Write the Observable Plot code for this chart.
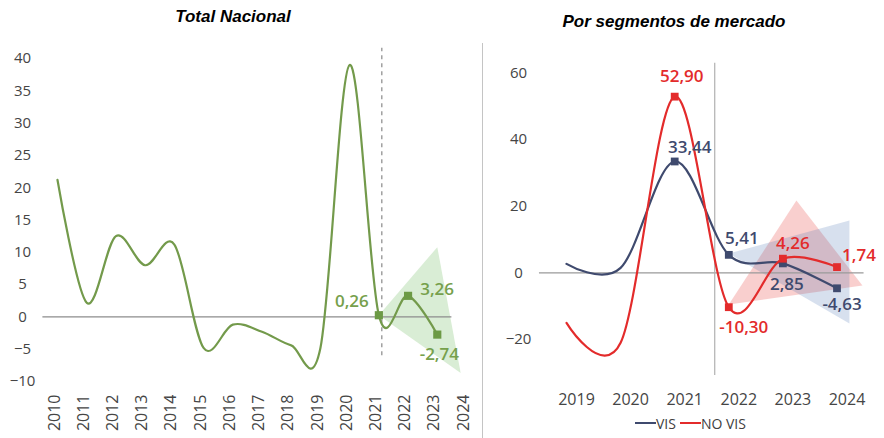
<!DOCTYPE html>
<html>
<head>
<meta charset="utf-8">
<script src="https://cdn.jsdelivr.net/npm/d3@7"></script>
<script src="https://cdn.jsdelivr.net/npm/@observablehq/plot@0.6"></script>
<style>
  html, body { margin: 0; padding: 0; background: #fff; }
  #wrap { position: relative; width: 884px; height: 438px; overflow: hidden; font-family: "Open Sans", sans-serif; }
  .title { position: absolute; text-align: center; font-family: "Liberation Sans", Arial, sans-serif; font-weight: bold; font-style: italic; font-size: 17px; line-height: 20px; color: #000; }
  .panel { position: absolute; top: 0; }
  #sep { position: absolute; left: 482px; top: 43px; width: 0; height: 395px; border-left: 1px solid #c4c4c4; }
  #legend { position: absolute; left: 635px; top: 414px; height: 18px; display: flex; align-items: center; font-size: 14px; color: #404040; }
  #legend .sw { display: inline-block; width: 21px; height: 0; border-top: 2.5px solid; }
</style>
</head>
<body>
<div id="wrap">
  <div id="left" class="panel" style="left:0"></div>
  <div id="right" class="panel" style="left:470px"></div>
  <div id="sep"></div>
  <div class="title" style="left:0; width:466px; top:7px;">Total Nacional</div>
  <div class="title" style="left:470px; width:408px; top:12px;">Por segmentos de mercado</div>
  <div id="legend"></div>
</div>
<script>
// ---------- Data: Total Nacional ----------
const totalYears = [2010, 2011, 2012, 2013, 2014, 2015, 2016, 2017, 2018, 2019, 2020, 2021, 2022, 2023];
const totalValues = [21.2, 2.2, 12.5, 8.0, 11.2, -4.8, -1.2, -2.3, -4.4, -4.8, 39.0, 0.26, 3.26, -2.74];
const totalTickYears = [2010, 2011, 2012, 2013, 2014, 2015, 2016, 2017, 2018, 2019, 2020, 2021, 2022, 2023, 2024];
const totalYTicks = [-10, -5, 0, 5, 10, 15, 20, 25, 30, 35, 40];
const totalMarkedYears = [2021, 2022, 2023];
const totalFanX = [2021, 2023, 2023.8];
const totalFanY = [0.26, 10.8, -8.7];
const totalSplitYear = 2021.1;

// ---------- Data: Por segmentos de mercado ----------
const segYears = [2019, 2020, 2021, 2022, 2023, 2024];
const visValues = [2.7, 1.5, 33.44, 5.41, 2.85, -4.63];
const noVisValues = [-15.0, -21.0, 52.90, -10.30, 4.26, 1.74];
const segYTicks = [-20, 0, 20, 40, 60];
const segMarkedYears = [2021, 2022, 2023, 2024];
const visFanX = [2022, 2024.23, 2024.23];
const visFanY = [5.8, 15.7, -15.2];
const noVisFanX = [2022, 2023.25, 2024.47];
const noVisFanY = [-9.5, 21.7, -3.8];
const segSplitYear = 2021.74;
const seriesNames = ["VIS", "NO VIS"];

// ---------- Styles ----------
const GREEN = "#739a4b", GREEN_MARK = "#6c9a45", GREEN_TXT = "#76a04c", GREEN_FAN = "#d9edd5";
const NAVY = "#3f4a6e", RED = "#e32b2b";
const fmt = v => v.toFixed(2).replace(".", ",");

// label offsets (px) for each labelled point
const totalLabelOffsets = { 2021: [-27, -14], 2022: [29, -6], 2023: [2, 20] };
const visLabelOffsets = { 2021: [15, -14], 2022: [13, -16], 2023: [4, 21], 2024: [5, 16] };
const noVisLabelOffsets = { 2021: [7, -20], 2022: [15, 20], 2023: [10, -15], 2024: [22, -12] };

const total = totalYears.map((year, i) => ({ year, value: totalValues[i] }));
const totalFan = totalFanX.map((x, i) => ({ x, y: totalFanY[i] }));
const vis = segYears.map((year, i) => ({ year, value: visValues[i] }));
const noVis = segYears.map((year, i) => ({ year, value: noVisValues[i] }));
const visFan = visFanX.map((x, i) => ({ x, y: visFanY[i] }));
const noVisFan = noVisFanX.map((x, i) => ({ x, y: noVisFanY[i] }));

function labelMarks(data, years, offsets, color) {
  return years.map(yr => {
    const d = data.filter(p => p.year === yr);
    const [dx, dy] = offsets[yr];
    return Plot.text(d, { x: "year", y: "value", text: p => fmt(p.value), dx, dy, fill: color, fontSize: 17, fontWeight: 600, textAnchor: "middle", style: "letter-spacing:0.8px" });
  });
}

// ---------- Left chart ----------
const left = Plot.plot({
  width: 470, height: 438,
  marginTop: 58, marginBottom: 57, marginLeft: 57, marginRight: 4,
  style: { fontFamily: "Open Sans, sans-serif", fontSize: "15px", color: "#404040", background: "transparent", overflow: "visible" },
  x: { domain: [2010, 2024] },
  y: { domain: [-10, 40] },
  marks: [
    Plot.axisY({ ticks: totalYTicks, tickSize: 0, tickPadding: 35, textAnchor: "middle", fontSize: 15, fill: "#454545", style: "letter-spacing:1px" }),
    Plot.axisX({ ticks: totalTickYears, tickFormat: d => String(d), tickRotate: -90, tickSize: 0, tickPadding: 13, dx: -3, fontSize: 16, fill: "#454545", style: "letter-spacing:0.8px" }),
    Plot.line(totalFan, { x: "x", y: "y", fill: GREEN_FAN, stroke: "none", curve: "linear" }),
    Plot.ruleY([0], { x1: 2009.5, x2: 2023.5, stroke: "#8c8c8c", strokeWidth: 1.2 }),
    Plot.ruleX([totalSplitYear], { y1: -6, y2: 41.6, stroke: "#a0a0a0", strokeWidth: 1.5, strokeDasharray: "4,4" }),
    Plot.line(total, { x: "year", y: "value", curve: "cardinal", tension: 0, stroke: GREEN, strokeWidth: 2.2 }),
    Plot.dot(total.filter(d => totalMarkedYears.includes(d.year)), { x: "year", y: "value", symbol: "square", r: 4.6, fill: GREEN_MARK, stroke: "none" }),
    ...labelMarks(total, totalMarkedYears, totalLabelOffsets, GREEN_TXT)
  ]
});
document.getElementById("left").appendChild(left);

// ---------- Right chart ----------
const right = Plot.plot({
  width: 414, height: 438,
  marginTop: 72.5, marginBottom: 99, marginLeft: 96, marginRight: 47.5,
  style: { fontFamily: "Open Sans, sans-serif", fontSize: "15px", color: "#404040", background: "transparent", overflow: "visible" },
  x: { domain: [2019, 2024] },
  y: { domain: [-20, 60] },
  marks: [
    Plot.axisY({ ticks: segYTicks, tickSize: 0, tickPadding: 48, textAnchor: "middle", fontSize: 15, fill: "#454545", style: "letter-spacing:1px" }),
    Plot.axisX({ ticks: segYears, tickFormat: d => String(d), tickSize: 0, tickPadding: 54, dx: 10, fontSize: 16, fill: "#454545", style: "letter-spacing:0.8px" }),
    Plot.line(noVisFan, { x: "x", y: "y", fill: "#e8413c", fillOpacity: 0.25, stroke: "none", curve: "linear" }),
    Plot.line(visFan, { x: "x", y: "y", fill: "#4a72b0", fillOpacity: 0.22, stroke: "none", curve: "linear" }),
    Plot.ruleY([0], { x1: 2018.5, x2: 2024.5, stroke: "#9a9a9a", strokeWidth: 1.2 }),
    Plot.ruleX([segSplitYear], { y1: -30.8, y2: 62.9, stroke: "#b0b0b0", strokeWidth: 1.2 }),
    Plot.line(vis, { x: "year", y: "value", curve: "cardinal", tension: 0, stroke: NAVY, strokeWidth: 2.2 }),
    Plot.line(noVis, { x: "year", y: "value", curve: "cardinal", tension: 0, stroke: RED, strokeWidth: 2.2 }),
    Plot.dot(vis.filter(d => segMarkedYears.includes(d.year)), { x: "year", y: "value", symbol: "square", r: 4.4, fill: NAVY, stroke: "none" }),
    Plot.dot(noVis.filter(d => segMarkedYears.includes(d.year)), { x: "year", y: "value", symbol: "square", r: 4.4, fill: RED, stroke: "none" }),
    ...labelMarks(vis, segMarkedYears, visLabelOffsets, NAVY),
    ...labelMarks(noVis, segMarkedYears, noVisLabelOffsets, RED)
  ]
});
document.getElementById("right").appendChild(right);

// ---------- Legend ----------
const legend = document.getElementById("legend");
const seriesColors = [NAVY, RED];
seriesNames.forEach((name, i) => {
  const sw = document.createElement("span");
  sw.className = "sw";
  sw.style.borderTopColor = seriesColors[i];
  if (i > 0) sw.style.marginLeft = "4px";
  const tx = document.createElement("span");
  tx.textContent = name;
  legend.appendChild(sw);
  legend.appendChild(tx);
});
</script>
</body>
</html>
